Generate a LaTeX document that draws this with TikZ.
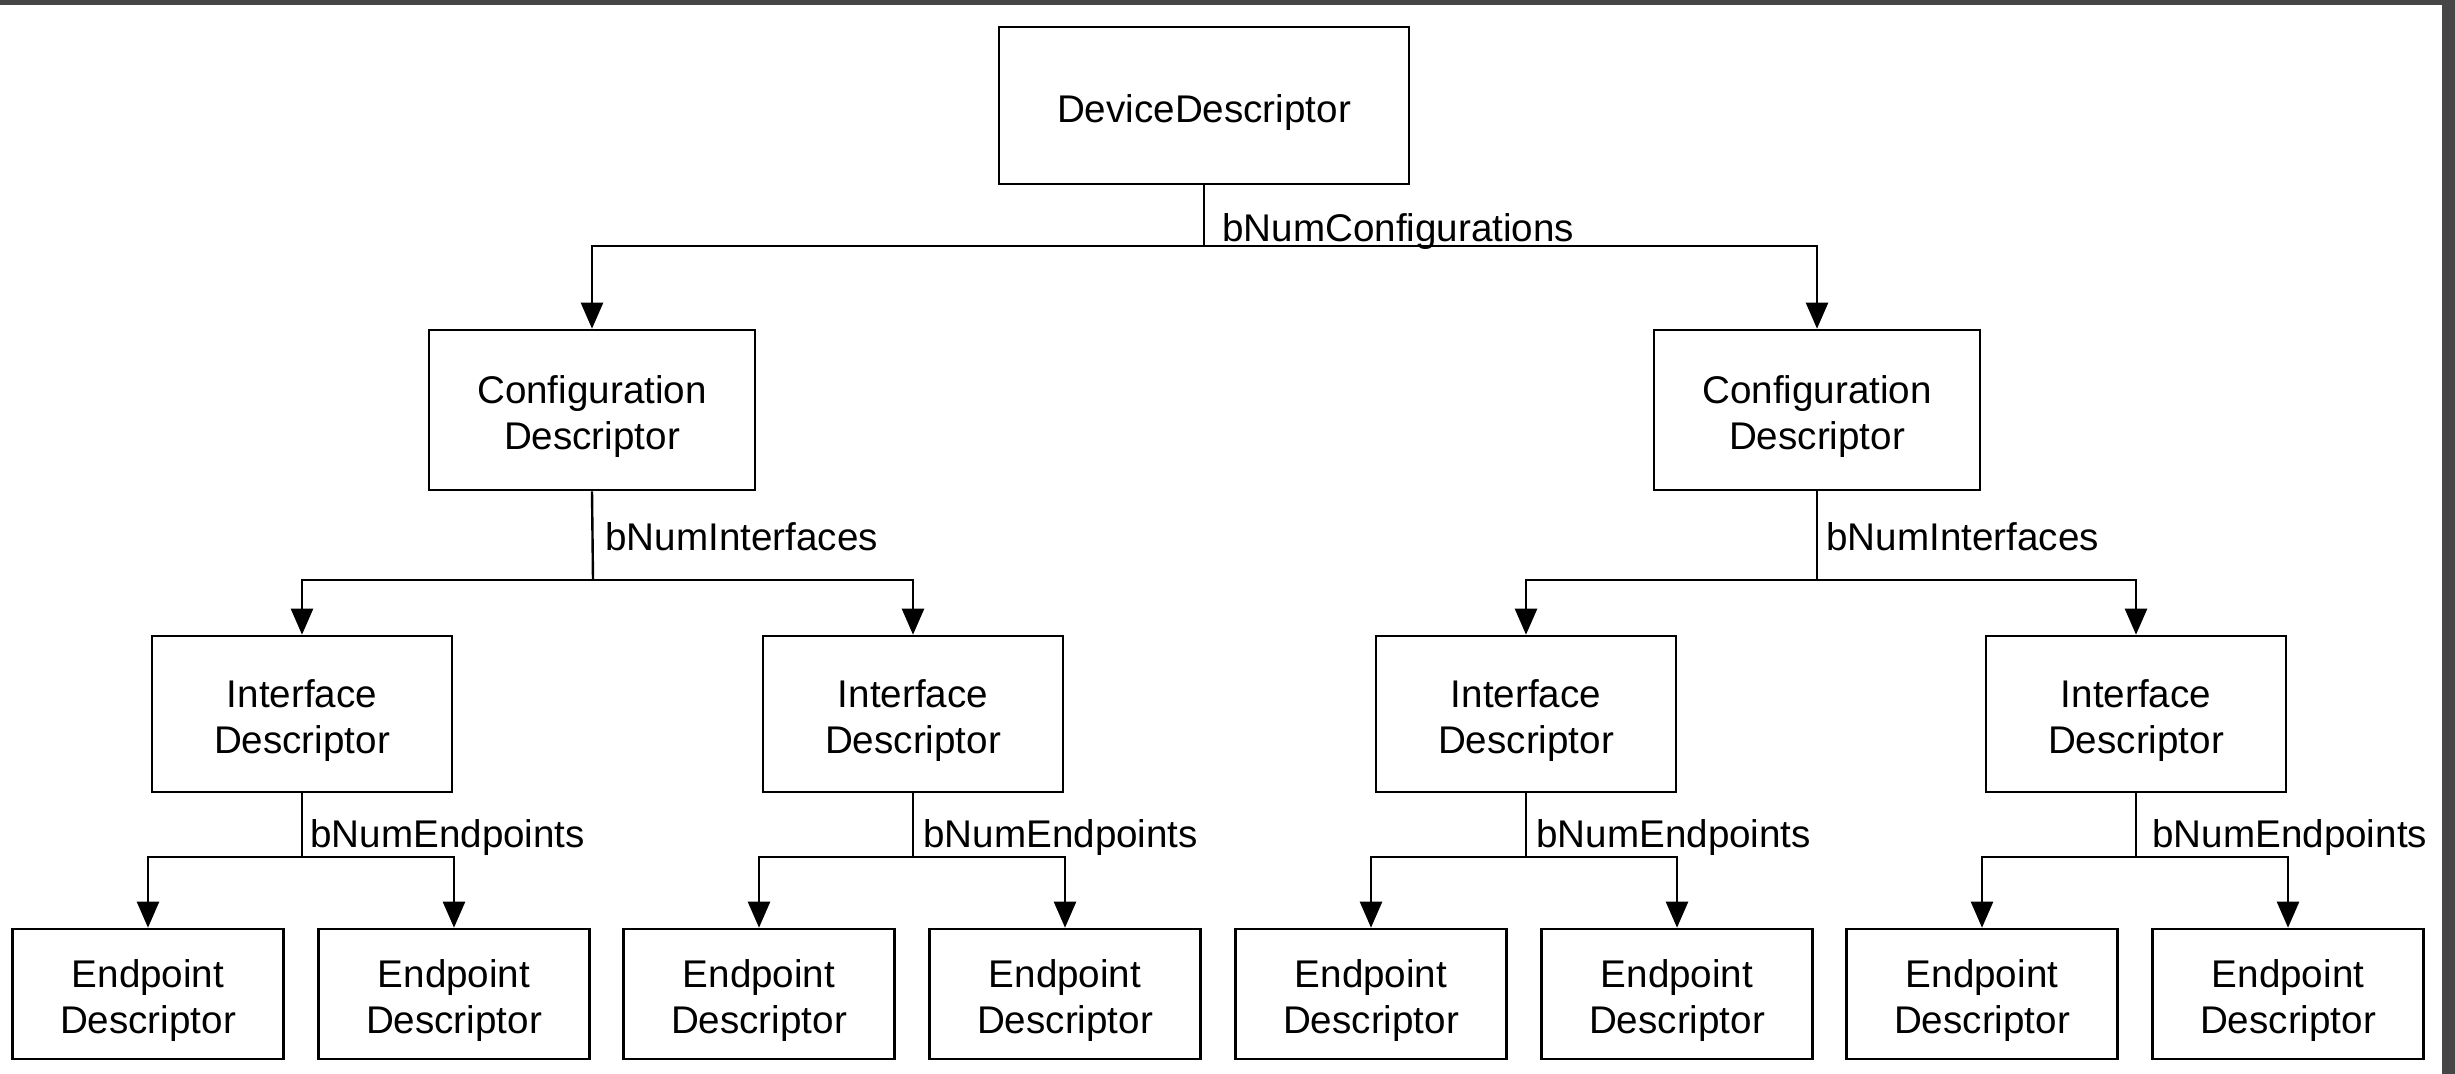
\documentclass[tikz,border=0pt]{standalone}
\usepackage{fontspec}
\setmainfont{Liberation Sans}
\usetikzlibrary{arrows.meta}
\definecolor{framegray}{RGB}{70,70,70}
\begin{document}
\begin{tikzpicture}[x=0.5pt,y=-0.5pt,
  box/.style={draw=black, line width=1.3pt, fill=white, inner sep=0pt},
  devbox/.style={box, minimum width=205pt, minimum height=78.5pt},
  cfgbox/.style={box, minimum width=163pt, minimum height=80pt},
  ifbox/.style={box, minimum width=150pt, minimum height=78pt},
  epbox/.style={box, minimum width=135.5pt, minimum height=65pt},
  boxtext/.style={align=center, inner sep=0pt,
    font=\fontsize{19.3pt}{23pt}\selectfont, yshift=-3.5pt},
  lbltext/.style={inner sep=0pt, anchor=base west,
    font=\fontsize{19.3pt}{23pt}\selectfont},
  conn/.style={line width=1.2pt, draw=black},
  arr/.style={conn, -{Triangle[length=13pt,width=11pt]}}]

% page area and window edge
\useasboundingbox (0,0) rectangle (2455,1074);
\fill[white] (0,0) rectangle (2455,1074);
\fill[framegray] (0,0) rectangle (2455,5);
\fill[framegray] (2442,0) rectangle (2455,1074);

% descriptor boxes
\node[devbox, label={[boxtext, name=dev-t]center:DeviceDescriptor}] (dev) at (1204,105.5) {};

\node[cfgbox, label={[boxtext, name=c1-t]center:{Configuration\\Descriptor}}] (c1) at (592,410) {};
\node[cfgbox, label={[boxtext, name=c2-t]center:{Configuration\\Descriptor}}] (c2) at (1817,410) {};

\foreach \n/\x in {i1/302, i2/913, i3/1526, i4/2136}
  \node[ifbox, label={[boxtext, name=\n-t]center:{Interface\\Descriptor}}] (\n) at (\x,714) {};

\foreach \n/\x in {e1/148, e2/454, e3/759, e4/1065, e5/1371, e6/1677, e7/1982, e8/2288}
  \node[epbox, label={[boxtext, name=\n-t]center:{Endpoint\\Descriptor}}] (\n) at (\x,994) {};

% junction points on the distribution lines
\coordinate (j0) at (1204,246);
\coordinate (j1) at (593,580);
\coordinate (j2) at (1817,580);
\coordinate (k1) at (302,857);
\coordinate (k2) at (913,857);
\coordinate (k3) at (1526,857);
\coordinate (k4) at (2136,857);

% device -> configurations
\draw[conn] (dev.south) -- (j0);
\draw[arr] (j0) -| (c1.north);
\draw[arr] (j0) -| (c2.north);
\node[lbltext] (l0) at (1222,242) {bNumConfigurations};

% configurations -> interfaces
\draw[conn] (c1.south) -- (j1);
\draw[arr] (j1) -| (i1.north);
\draw[arr] (j1) -| (i2.north);
\node[lbltext] (l1) at (605,550) {bNumInterfaces};

\draw[conn] (c2.south) -- (j2);
\draw[arr] (j2) -| (i3.north);
\draw[arr] (j2) -| (i4.north);
\node[lbltext] (l2) at (1826,550) {bNumInterfaces};

% interfaces -> endpoints
\draw[conn] (i1.south) -- (k1);
\draw[arr] (k1) -| (e1.north);
\draw[arr] (k1) -| (e2.north);
\node[lbltext] (l3) at (310,847) {bNumEndpoints};

\draw[conn] (i2.south) -- (k2);
\draw[arr] (k2) -| (e3.north);
\draw[arr] (k2) -| (e4.north);
\node[lbltext] (l4) at (923,847) {bNumEndpoints};

\draw[conn] (i3.south) -- (k3);
\draw[arr] (k3) -| (e5.north);
\draw[arr] (k3) -| (e6.north);
\node[lbltext] (l5) at (1536,847) {bNumEndpoints};

\draw[conn] (i4.south) -- (k4);
\draw[arr] (k4) -| (e7.north);
\draw[arr] (k4) -| (e8.north);
\node[lbltext] (l6) at (2152,847) {bNumEndpoints};
\end{tikzpicture}
\end{document}
